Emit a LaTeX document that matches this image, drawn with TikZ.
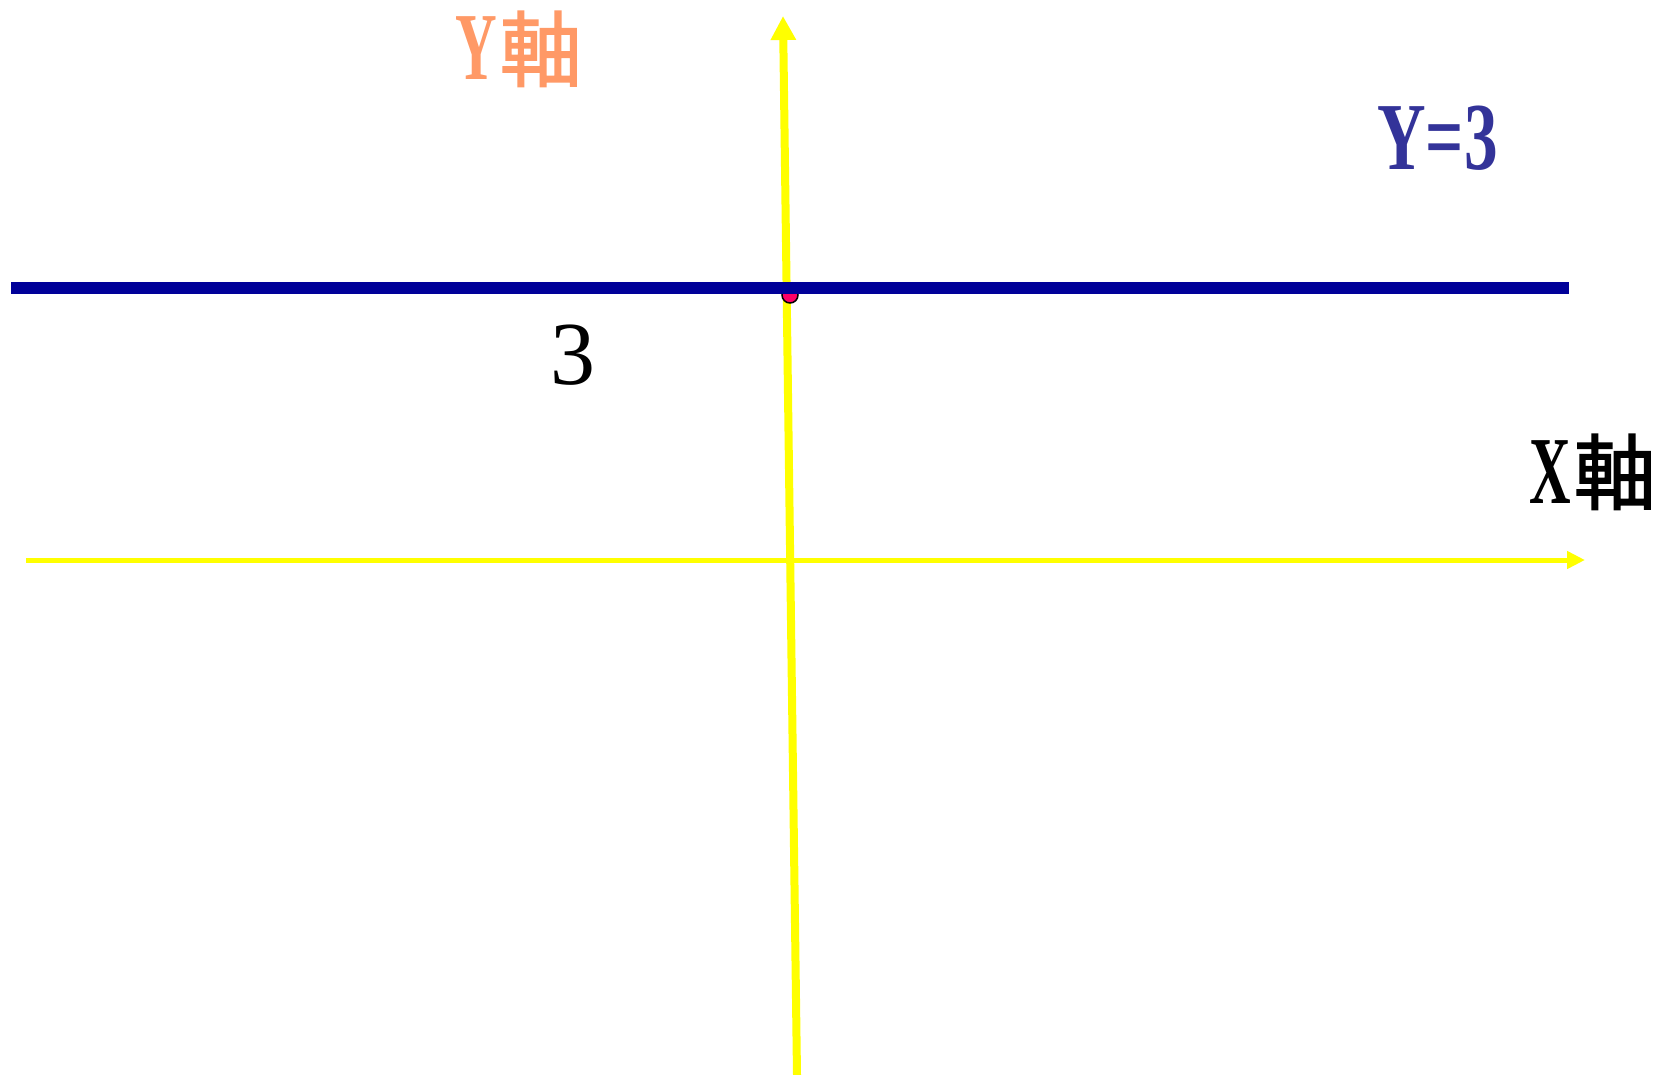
\documentclass[tikz,border=0pt]{standalone}
\usepackage{fontspec}
\setmainfont{Liberation Serif}
\newfontfamily\cjk[FakeBold=1.8]{Noto Sans CJK TC}
\usetikzlibrary{arrows.meta}
\definecolor{axisyellow}{RGB}{255,255,0}
\definecolor{lineblue}{RGB}{0,0,153}
\definecolor{labelblue}{RGB}{51,51,153}
\definecolor{labelorange}{RGB}{255,153,102}
\definecolor{dotred}{RGB}{255,0,102}
\newcommand{\myaxlabel}[2]{\scalebox{0.6}[1]{\bfseries #1}\hspace{3pt}{\cjk\fontsize{82}{86}\selectfont #2}}
\tikzset{
  axisline/.style={draw=axisyellow},
  biglabel/.style={inner sep=0pt, anchor=base west, font=\fontsize{96}{100}\selectfont},
}
\begin{document}
\begin{tikzpicture}[x=1pt,y=-1pt]
\useasboundingbox[fill=white] (0,0) rectangle (1657,1075);
% coordinates
\coordinate (ytop) at (783,16);
\coordinate (ybot) at (797,1075);
\coordinate (xleft) at (26,560);
\coordinate (xright) at (1585,560);
\coordinate (bleft) at (11,288);
\coordinate (bright) at (1569,288);
% axes
\draw[axisline, line width=8pt, -{Triangle[length=24pt,width=24pt]}] (ybot) -- (ytop);
\draw[axisline, line width=5pt, -{Triangle[length=18pt,width=17pt]}] (xleft) -- (xright);
% point
\node[circle, fill=dotred, draw=black, line width=1.5pt, minimum size=16pt, inner sep=0pt] (pt) at (790,295) {};
% line y=3
\draw[lineblue, line width=12pt] (bleft) -- (bright);
% labels
\node[biglabel, text=labelorange] (ylab) at (455,80) {\myaxlabel{Y}{軸}};
\node[biglabel, text=labelblue] (eqlab) at (1377,170) {\scalebox{0.7}[1]{\bfseries Y=3}};
\node[inner sep=0pt, font=\fontsize{90}{94}\selectfont] (three) at (573,355) {3};
\node[biglabel, text=black] (xlab) at (1529,503) {\myaxlabel{X}{軸}};
\end{tikzpicture}
\end{document}
